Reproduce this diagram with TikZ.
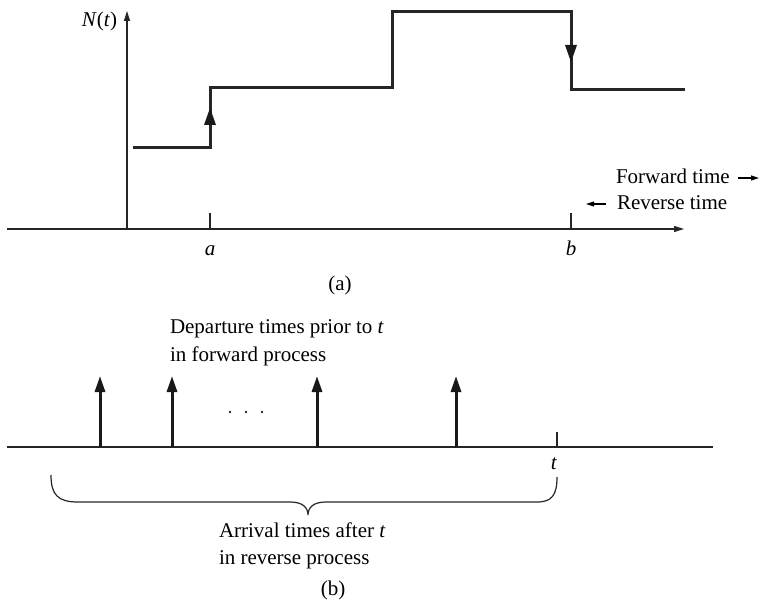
\documentclass[tikz,border=0pt]{standalone}
\usepackage{fontspec}
\setmainfont{Liberation Serif}
\usetikzlibrary{arrows.meta}
\begin{document}
\begin{tikzpicture}[x=1pt,y=-1pt,
  every node/.style={inner sep=0pt,outer sep=0pt,font=\fontsize{21}{25}\selectfont},
  axisline/.style={line width=1.3pt,draw=black!85},
  thinarrow/.style={line width=1.3pt,draw=black!85,-{Triangle[length=10pt,width=6pt]}},
  smallarrow/.style={line width=1.1pt,-{Triangle[length=8pt,width=5pt]}},
  stepline/.style={line width=3pt,draw=black!85,line join=miter},
  spike/.style={line width=3pt,draw=black!90,-{Triangle[length=16pt,width=10pt]}},
  headfill/.style={fill=black!90},
  lbl/.style={anchor=base}]
\useasboundingbox (0,0) rectangle (760,601);
% ---------------- (a) ----------------
\coordinate (hx0) at (7,229);
\coordinate (hx1) at (684,229);
\coordinate (origin) at (127,229);
\coordinate (vtop) at (127,11);
\draw[thinarrow] (hx0) -- (hx1);
\draw[thinarrow] (origin) -- (vtop);
\node[anchor=east] (Nt) at (117,21) {\textit{N}(\textit{t})};
% step function
\draw[stepline] (133,148) -- (210,148) -- (210,88) -- (392,88) -- (392,12) -- (571,12) -- (571,90) -- (685,90);
\fill[headfill] (204,125) -- (216,125) -- (210,108) -- cycle;
\fill[headfill] (565,45) -- (577,45) -- (571,62) -- cycle;
% ticks
\coordinate (ta) at (210,229);
\coordinate (tb) at (571,229);
\draw[axisline] (ta) -- ++(0,-16);
\draw[axisline] (tb) -- ++(0,-16);
\node[lbl] (la) at (210,256) {\textit{a}};
\node[lbl] (lb) at (571,256) {\textit{b}};
% forward / reverse
\node[anchor=base west] (fwd) at (616,184) {Forward time};
\coordinate (fa0) at (738,178);
\coordinate (fa1) at (759,178);
\draw[smallarrow] (fa0) -- (fa1);
\node[anchor=base west] (rev) at (617,210) {Reverse time};
\coordinate (ra0) at (606,204);
\coordinate (ra1) at (586,204);
\draw[smallarrow] (ra0) -- (ra1);
\node[lbl] (capa) at (340,291) {(a)};
% ---------------- (b) ----------------
\coordinate (bx0) at (7,447);
\coordinate (bx1) at (713,447);
\draw[axisline] (bx0) -- (bx1);
\foreach \xx/\nm in {100/s1,172/s2,317/s3,456/s4}{
  \coordinate (\nm b) at (\xx,447);
  \coordinate (\nm t) at (\xx,376);
  \draw[spike] (\nm b) -- (\nm t);
}
\foreach \xx in {230,246,262}{
  \fill[black!85] (\xx,412) circle (1.3);
}
\coordinate (tt) at (557,447);
\draw[axisline] (tt) -- ++(0,-15);
\node[lbl] (lt) at (554,469) {\textit{t}};
\node[anchor=base west] (dep1) at (170,334) {Departure times prior to \textit{t}};
\node[anchor=base west] (dep2) at (170,361) {in forward process};
% brace
\draw[line width=1.2pt,draw=black!85] (51,475) .. controls (51,495) and (58,502) .. (78,502)
  -- (290,502) .. controls (302,502) and (308,507) .. (308,515)
  .. controls (308,507) and (314,502) .. (326,502)
  -- (537,502) .. controls (552,502) and (557,495) .. (557,477);
\node[anchor=base west] (arr1) at (219,537) {Arrival times after \textit{t}};
\node[anchor=base west] (arr2) at (219,564) {in reverse process};
\node[lbl] (capb) at (333,595) {(b)};
\end{tikzpicture}
\end{document}
